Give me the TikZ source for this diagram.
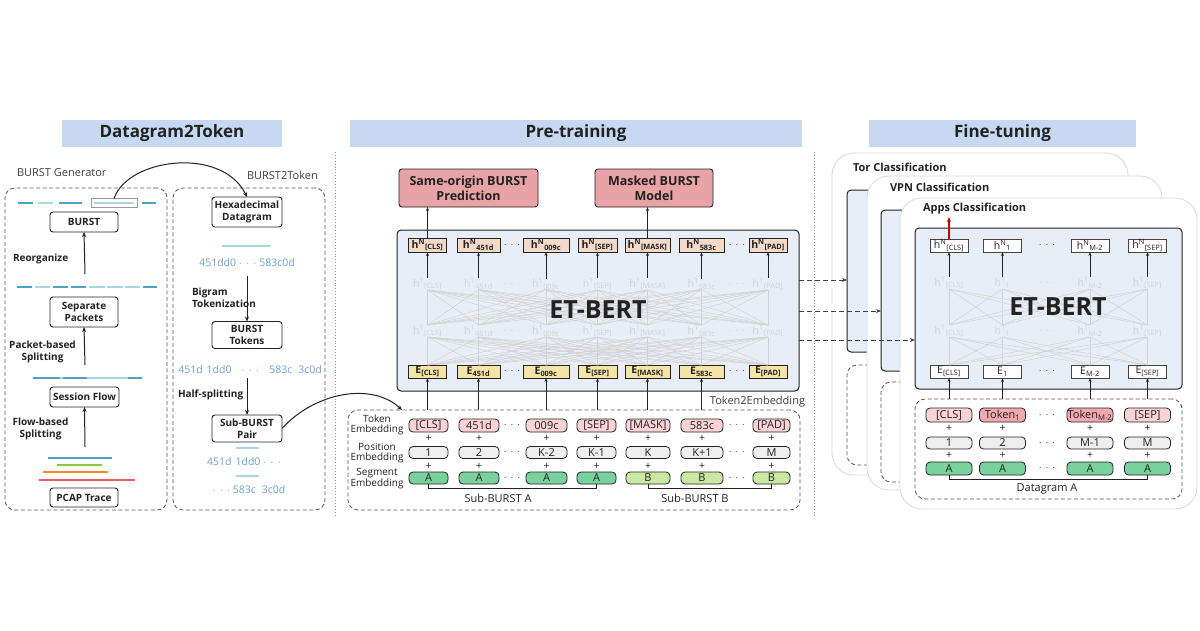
\documentclass[tikz,border=0pt]{standalone}
\usepackage{fontspec}
\setmainfont{Open Sans}
\usetikzlibrary{arrows.meta}
\definecolor{titleblue}{HTML}{C6D9F1}
\definecolor{tealA}{HTML}{4AA3BF}
\definecolor{tealB}{HTML}{A9D6DF}
\definecolor{hexblue}{HTML}{6E9FD6}
\definecolor{taskpink}{HTML}{E7A3A6}
\definecolor{hpeach}{HTML}{F3D9C8}
\definecolor{eyellow}{HTML}{F6E4A6}
\definecolor{tokpink}{HTML}{F9D3D5}
\definecolor{tokpinkB}{HTML}{F2A9AE}
\definecolor{posgray}{HTML}{EEEEEE}
\definecolor{segA}{HTML}{79D29E}
\definecolor{segB}{HTML}{C9E8A3}
\definecolor{bertbg}{HTML}{E8EEF7}
\definecolor{dk}{HTML}{222222}
\definecolor{faint}{HTML}{D2D2D2}
\definecolor{lgreen}{HTML}{8DC63F}
\definecolor{lorange}{HTML}{F08A24}
\definecolor{lred}{HTML}{EF5B5B}
\newcommand\fsz[2]{\fontsize{#1}{#2}\selectfont}
\newcommand\mydots{$\cdot\,\cdot\,\cdot$}
\begin{document}
\begin{tikzpicture}[x=1pt,y=-1pt,
  every node/.style={text=dk, inner sep=0pt, outer sep=0pt},
  ttl/.style={fill=titleblue, minimum height=27pt, font=\bfseries\fsz{17}{20}},
  pbox/.style={draw=dk, line width=0.9pt, rounded corners=3pt, fill=white, align=center, font=\bfseries\fsz{10}{12}},
  lbl/.style={font=\bfseries\fsz{10}{12}, align=center},
  captxt/.style={font=\fsz{11}{12}, text=black!75},
  hexs/.style={text=hexblue, font=\fsz{10.5}{12}},
  dbox/.style={draw=black!65, dash pattern=on 4pt off 2.5pt, line width=0.8pt, rounded corners=10pt},
  arr/.style={-{Stealth[length=5pt,width=4pt]}, line width=1pt, draw=dk},
  sarr/.style={-{Stealth[length=4pt,width=3pt]}, line width=0.8pt, draw=dk},
  darr/.style={-{Stealth[length=5pt,width=4pt]}, line width=1pt, draw=black!75, dash pattern=on 5pt off 3pt},
  barline/.style={line width=2.8pt},
  hnode/.style={draw=dk, line width=0.8pt, fill=hpeach, minimum height=14pt, font=\bfseries\fsz{10.5}{11}},
  enode/.style={draw=dk, line width=0.8pt, fill=eyellow, minimum height=13pt, font=\bfseries\fsz{10.5}{11}},
  fhnode/.style={draw=dk!85, line width=0.7pt, fill=white, minimum width=38pt, minimum height=13pt, font=\fsz{10.5}{11}},
  fnode/.style={text=faint, font=\fsz{10.5}{11}},
  pillbox/.style={draw=dk, line width=0.8pt, rounded corners=4pt, font=\fsz{11}{12}},
  fanline/.style={draw=faint, line width=0.5pt},
  cardbox/.style={draw=black!15, line width=0.8pt, fill=white, rounded corners=22pt},
  innerbox/.style={draw=dk, line width=1pt, fill=bertbg, rounded corners=4pt},
  berttxt/.style={font=\bfseries\fsz{25}{28}},
  plustxt/.style={font=\fsz{10.5}{10}},
  rowlbl/.style={font=\fsz{10}{10.5}, align=center},
]
\fill[white] (0,0) rectangle (1200,630);
\useasboundingbox (0,0) rectangle (1200,630);

% ---------- titles ----------
\node[ttl, minimum width=220pt] (t1) at (172,133.5) {Datagram2Token};
\node[ttl, minimum width=452pt] (t2) at (576,133.5) {Pre-training};
\node[ttl, minimum width=267pt] (t3) at (1002.5,133.5) {Fine-tuning};
\draw[black!45, dotted, line width=0.9pt] (335,152) -- (335,515);
\draw[black!45, dotted, line width=0.9pt] (814,152) -- (814,515);

% ---------- BURST Generator ----------
\node[captxt, anchor=west] (bg) at (17,173) {BURST Generator};
\node[dbox, minimum width=162pt, minimum height=322pt] (BG) at (86,349) {};
\draw[barline, tealA] (18,203) -- (33,203);
\draw[barline, tealB] (38,203) -- (53,203);
\draw[barline, tealA] (59,203) -- (82,203);
\draw[barline, tealB] (94,203) -- (134,203);
\draw[barline, tealA] (142,203) -- (156,203);
\node[draw=black!40, line width=0.5pt, minimum width=46pt, minimum height=9pt] (hl) at (114,203) {};
\node[pbox, minimum width=68pt, minimum height=20pt] (burst) at (84,222) {BURST};
\node[pbox, minimum width=68pt, minimum height=30pt] (sep) at (84,312) {Separate\\Packets};
\node[pbox, minimum width=69pt, minimum height=20pt] (sess) at (84.5,397) {Session Flow};
\node[pbox, minimum width=68pt, minimum height=19pt] (pcap) at (84,497.5) {PCAP Trace};
\draw[barline, tealA] (17,287) -- (32,287);
\draw[barline, tealB] (35,287) -- (50,287);
\draw[barline, tealA] (53,287) -- (68,287);
\draw[barline, tealA] (71,287) -- (86,287);
\draw[barline, tealB] (89,287) -- (105,287);
\draw[barline, tealB] (107,287) -- (123,287);
\draw[barline, tealB] (125,287) -- (140,287);
\draw[barline, tealA] (143,287) -- (157,287);
\draw[barline, tealA] (33,378) -- (60,378);
\draw[barline, tealB] (60,378) -- (63,378);
\draw[barline, tealA] (63,378) -- (87,378);
\draw[barline, tealB] (87,378) -- (128,378);
\draw[barline, tealA] (128,378) -- (142,378);
\draw[barline, tealA] (48,458) -- (112,458);
\draw[barline, lgreen] (57,465) -- (102,465);
\draw[barline, lorange] (43,472) -- (108,472);
\draw[barline, lred] (39,480) -- (135,480);
\coordinate (a1) at (85,274);
\coordinate (a2) at (85,365);
\coordinate (a3) at (85,447);
\draw[arr] (a1) -- (burst.south);
\draw[arr] (a2) -- (sep.south);
\draw[arr] (a3) -- (sess.south);
\node[lbl, anchor=west] (reorg) at (13,259) {Reorganize};
\node[lbl] (pbs) at (42.5,351.5) {Packet-based\\Splitting};
\node[lbl] (fbs) at (40.5,429) {Flow-based\\Splitting};

% ---------- BURST2Token ----------
\node[captxt, anchor=west] (b2t) at (247,175) {BURST2Token};
\node[dbox, minimum width=152pt, minimum height=322pt] (B2T) at (249,349) {};
\node[pbox, minimum width=70pt, minimum height=30pt] (hex) at (247,212) {Hexadecimal\\Datagram};
\draw[barline, tealB] (222,246) -- (271,246);
\node[hexs] (h1) at (247,263) {451dd0 \mydots\ 583c0d};
\node[pbox, minimum width=70pt, minimum height=27pt] (btok) at (247,335) {BURST\\Tokens};
\node[hexs] (h2) at (250,370) {451d\hspace{4pt}1dd0\hspace{10pt}\mydots\hspace{10pt}583c\hspace{6pt}3c0d};
\node[pbox, minimum width=70pt, minimum height=27pt] (sbp) at (247,428.5) {Sub-BURST\\Pair};
\draw[barline, tealB] (236,448) -- (259,448);
\node[hexs] (h3) at (244,462) {451d\hspace{4pt}1dd0 \mydots};
\draw[barline, tealB] (236,476) -- (259,476);
\node[hexs] (h4) at (249,490) {\mydots\ 583c\hspace{6pt}3c0d};
\coordinate (a4) at (247,276);
\coordinate (a5) at (247,378);
\draw[arr] (a4) -- (btok.north);
\draw[arr] (a5) -- (sbp.north);
\node[lbl, align=left, anchor=west] (bt) at (192,298) {Bigram\\Tokenization};
\node[lbl, anchor=west] (hs) at (178,395) {Half-splitting};
\draw[arr] (hl.north) .. controls (128,158) and (222,146) .. (hex.north);

% ---------- Pre-training ----------
\node[pbox, fill=taskpink, minimum width=139pt, minimum height=38pt, font=\bfseries\fsz{12.5}{15}] (sop) at (468.5,188) {Same-origin BURST\\Prediction};
\node[pbox, fill=taskpink, minimum width=118pt, minimum height=38pt, font=\bfseries\fsz{12.5}{15}] (mbm) at (654,188) {Masked BURST\\Model};
\node[innerbox, minimum width=402pt, minimum height=161pt] (BERT) at (598,310.5) {};
\node[dbox, minimum width=452pt, minimum height=100pt] (T2E) at (574,460) {};
\node[captxt] (t2el) at (757.5,402) {Token2Embedding};

\foreach \i/\cx/\hw/\pcx/\tw/\nm/\ps/\sg in {
  1/427.5/38/428.5/39/{[CLS]}/1/A,
  2/478.5/43/479/40/451d/2/A,
  3/546/46/546.5/41/009c/K-2/A,
  4/597.5/39/596.5/39/{[SEP]}/K-1/A,
  5/647.5/45/648/44/{[MASK]}/K/B,
  6/701.5/45/702/42/583c/K+1/B,
  7/768/38/771.5/37/{[PAD]}/M/B}{
  \node[hnode, minimum width=\hw pt] (hN\i) at (\cx,245) {h\textsuperscript{N}\textsubscript{\nm}};
  \node[fnode, minimum height=10pt] (u\i) at (\cx,284) {h\textsuperscript{1}\textsubscript{\nm}};
  \node[fnode, minimum height=12pt] (l\i) at (\cx,331) {h\textsuperscript{1}\textsubscript{\nm}};
  \node[enode, minimum width=\hw pt] (E\i) at (\cx,371.5) {E\textsubscript{\nm}};
  \node[pillbox, fill=tokpink, minimum width=\tw pt, minimum height=13pt] (tk\i) at (\pcx,425.5) {\nm};
  \node[plustxt] (pa\i) at (\pcx,438.5) {+};
  \node[pillbox, fill=posgray, minimum width=\tw pt, minimum height=12pt] (ps\i) at (\pcx,452.5) {\ps};
  \node[plustxt] (pb\i) at (\pcx,466) {+};
  \node[pillbox, fill=seg\sg, minimum width=\tw pt, minimum height=12pt] (sg\i) at (\pcx,478) {\sg};
}
\foreach \i in {1,...,7}{
  \foreach \j in {1,...,7}{
    \draw[fanline] (u\i.south) -- (l\j.north);
    \draw[fanline] (l\i.south) -- (E\j.north);
  }
  \draw[sarr] (u\i.north) -- (hN\i.south);
}
\foreach \i in {1,...,6}{
  \draw[sarr] (E\i.south |- T2E.north) -- (E\i.south);
}
\foreach \y/\c [count=\k] in {245/dk,284/faint,331/faint,371.5/dk,425.5/dk,452.5/dk,478/dk}{
  \node[text=\c] (dl\k) at (512,\y) {\mydots};
  \node[text=\c] (dr\k) at (737,\y) {\mydots};
}
\node[berttxt] (bt1) at (598,310) {ET-BERT};
\draw[sarr] (hN1.north) -- (hN1.north |- sop.south);
\draw[sarr] (hN5.north) -- (hN5.north |- mbm.south);
\node[rowlbl] (lt) at (377,425) {Token\\Embedding};
\node[rowlbl] (lp) at (377,453) {Position\\Embedding};
\node[rowlbl] (ls) at (377,478.5) {Segment\\Embedding};
\draw[line width=0.6pt, dk] (sg1.south) -- ++(0,4) -| (sg4.south);
\draw[line width=0.6pt, dk] (sg5.south) -- ++(0,4) -| (sg7.south);
\node[font=\fsz{11}{12}] (sa) at (498,498.5) {Sub-BURST A};
\node[font=\fsz{11}{12}] (sb) at (695,498.5) {Sub-BURST B};
\coordinate (tip2) at (402,410);
\draw[arr] (sbp.east) .. controls (315,392) and (372,382) .. (tip2);

% ---------- Fine-tuning ----------
\node[cardbox, minimum width=296pt, minimum height=322pt] (torc) at (980,314) {};
\node[font=\bfseries\fsz{11}{12}, anchor=west] (torl) at (853,167) {Tor Classification};
\node[innerbox, minimum width=253pt, minimum height=162pt] (TorIn) at (973.5,271) {};
\node[dbox, minimum width=253pt, minimum height=100pt] (TorD) at (973.5,415) {};
\node[cardbox, minimum width=295pt, minimum height=314pt] (vpnc) at (1014.5,333) {};
\node[font=\bfseries\fsz{11}{12}, anchor=west] (vpnl) at (890,187) {VPN Classification};
\node[innerbox, minimum width=259pt, minimum height=161pt] (VpnIn) at (1010.5,290.5) {};
\node[dbox, minimum width=259pt, minimum height=100pt] (VpnD) at (1010.5,432) {};
\node[cardbox, minimum width=297pt, minimum height=311pt] (appc) at (1048.5,353.5) {};
\node[font=\bfseries\fsz{11}{12}, anchor=west] (appl) at (923,209) {Apps Classification};
\node[innerbox, minimum width=267pt, minimum height=161pt] (AB) at (1048.5,308.5) {};
\node[dbox, minimum width=267pt, minimum height=100pt] (AD) at (1048.5,449) {};

\foreach \i/\cx/\nm/\tk/\ps/\tf in {
  1/949/{[CLS]}/{[CLS]}/1/tokpink,
  2/1002.5/1/{Token\textsubscript{1}}/2/tokpinkB,
  3/1090/{M-2}/{Token\textsubscript{M-2}}/M-1/tokpinkB,
  4/1147.5/{[SEP]}/{[SEP]}/M/tokpink}{
  \node[fhnode] (fh\i) at (\cx,245.5) {h\textsuperscript{N}\textsubscript{\nm}};
  \node[fnode, minimum height=12pt] (fu\i) at (\cx,283) {h\textsuperscript{1}\textsubscript{\nm}};
  \node[fnode, minimum height=12pt] (fl\i) at (\cx,331) {h\textsuperscript{1}\textsubscript{\nm}};
  \node[fhnode] (fE\i) at (\cx,371.5) {E\textsubscript{\nm}};
  \node[pillbox, fill=\tf, minimum width=46pt, minimum height=14pt] (ft\i) at (\cx,415) {\tk};
  \node[plustxt] (fpa\i) at (\cx,428.5) {+};
  \node[pillbox, fill=posgray, minimum width=46pt, minimum height=12pt] (fp\i) at (\cx,443) {\ps};
  \node[plustxt] (fpb\i) at (\cx,455.5) {+};
  \node[pillbox, fill=segA, minimum width=46pt, minimum height=13pt] (fs\i) at (\cx,468.5) {A};
}
\foreach \i in {1,...,4}{
  \foreach \j in {1,...,4}{
    \draw[fanline] (fu\i.south) -- (fl\j.north);
    \draw[fanline] (fl\i.south) -- (fE\j.north);
  }
  \draw[sarr] (fu\i.north) -- (fh\i.south);
  \draw[sarr] (fE\i.south |- AD.north) -- (fE\i.south);
}
\foreach \y/\c [count=\k] in {245.5/dk,283/faint,331/faint,371.5/dk,415/dk,443/dk,468.5/dk}{
  \node[text=\c] (fd\k) at (1047,\y) {\mydots};
}
\node[berttxt] (bt2) at (1058,307) {ET-BERT};
\draw[line width=0.6pt, dk] (fs1.south) -- ++(0,4.5) -| (fs4.south);
\node[font=\fsz{11}{12}] (dga) at (1047,489) {Datagram A};
\coordinate (redtip) at (949,217);
\draw[-{Stealth[length=5pt,width=4pt]}, line width=1.3pt, draw=red!85!black] (fh1.north) -- (redtip);

% ---------- dashed arrows ----------
\draw[darr] (BERT.east |- 0,280) -- (TorIn.west |- 0,280);
\draw[darr] (BERT.east |- 0,311) -- (VpnIn.west |- 0,311);
\draw[darr] (BERT.east |- 0,340) -- (AB.west |- 0,340);
\end{tikzpicture}
\end{document}
